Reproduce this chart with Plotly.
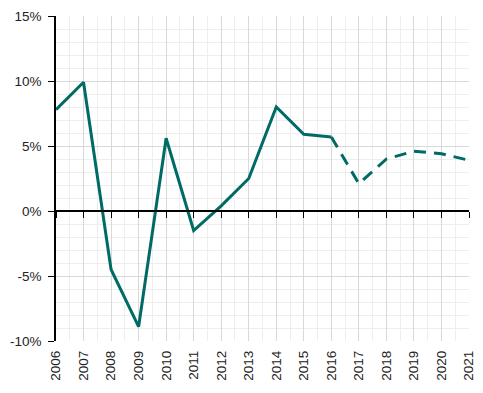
import plotly.graph_objects as go

years = list(range(2006, 2022))
actual_years = years[:11]           # 2006-2016
actual_values = [7.8, 9.9, -4.5, -8.9, 5.6, -1.5, 0.4, 2.5, 8.0, 5.9, 5.7]
forecast_years = years[10:]         # 2016-2021
forecast_values = [5.7, 2.1, 4.0, 4.6, 4.4, 3.9]

y_tickvals = [-10, -5, 0, 5, 10, 15]
y_ticktext = ["-10%", "-5%", "0%", "5%", "10%", "15%"]
x_ticktext = [str(y) for y in years]

teal = "#006B66"
fig = go.Figure()
fig.add_trace(go.Scatter(x=actual_years, y=actual_values, mode="lines",
                         line=dict(color=teal, width=3), showlegend=False))
fig.add_trace(go.Scatter(x=forecast_years, y=forecast_values, mode="lines",
                         line=dict(color=teal, width=3, dash="12px,8px"), showlegend=False))
fig.add_trace(go.Scatter(x=[2006], y=[0], xaxis="x2", mode="markers",
                         marker=dict(opacity=0), showlegend=False, hoverinfo="skip"))

fig.update_layout(
    width=475, height=385,
    margin=dict(l=48, r=14, t=8, b=52),
    plot_bgcolor="white", paper_bgcolor="white",
    font=dict(family="Liberation Sans", color="#222222"),
    xaxis=dict(range=[2006, 2021], tickvals=years, ticktext=x_ticktext,
               tickangle=-90, showgrid=True, gridcolor="#d9d9d9", gridwidth=1,
               minor=dict(dtick=0.5, tick0=2006, showgrid=True, gridcolor="#eeeeee"),
               zeroline=False, showline=False, ticks="", automargin=False,
               tickfont=dict(size=13.5, family="Liberation Sans"),
               ticklabelstandoff=6, ticklabeloverflow="allow"),
    xaxis2=dict(range=[2006, 2021], overlaying="x", matches="x", anchor="free",
                position=0.4, side="bottom", showline=True, linecolor="black",
                linewidth=1.5, ticks="outside", ticklen=6, tickcolor="black",
                tickvals=years, showticklabels=False, showgrid=False, zeroline=False,
                automargin=False),
    yaxis=dict(range=[-10, 15], tickvals=y_tickvals, ticktext=y_ticktext,
               showgrid=True, gridcolor="#d9d9d9", gridwidth=1,
               minor=dict(dtick=1, tick0=0, showgrid=True, gridcolor="#eeeeee"),
               zeroline=False, showline=True, linecolor="black", linewidth=1.5,
               ticks="outside", ticklen=6, tickcolor="black", automargin=False,
               tickfont=dict(size=13.5, family="Liberation Sans"),
               ticklabelstandoff=4, ticklabeloverflow="allow"),
)

fig.write_html("out.html")
